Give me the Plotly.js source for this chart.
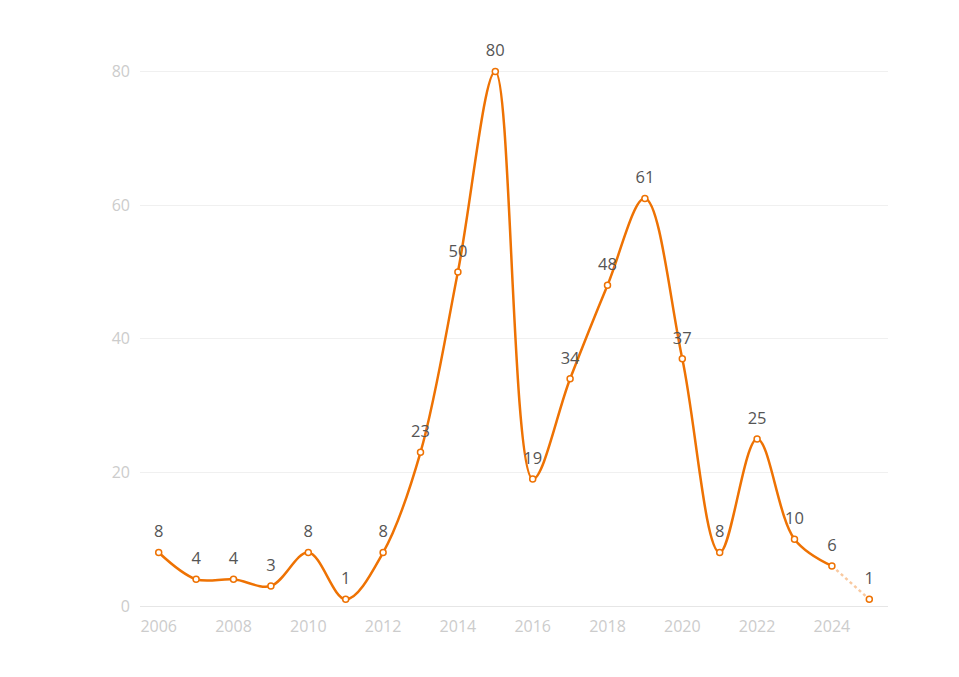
<!DOCTYPE html>
<html><head><meta charset="utf-8">
<script src="https://cdn.plot.ly/plotly-3.0.1.min.js"></script>
<style>body{margin:0;background:#fff}#c{width:959px;height:677px}</style>
</head><body><div id="c"></div>
<script>
const years = [2006,2007,2008,2009,2010,2011,2012,2013,2014,2015,2016,2017,2018,2019,2020,2021,2022,2023,2024];
const values = [8,4,4,3,8,1,8,23,50,80,19,34,48,61,37,8,25,10,6];
const projYears = [2024,2025];
const projValues = [6,1];
const tickYears = [2006,2008,2010,2012,2014,2016,2018,2020,2022,2024];
const yTicks = [0,20,40,60,80];
const orange = '#EE7203';
const labelYears = years.concat([2025]);
const labelValues = values.concat([1]);
const traces = [
  {x: projYears, y: projValues, mode:'lines', line:{color:'#F9C9A0', width:2.5, dash:'dot'}, hoverinfo:'skip', cliponaxis:false},
  {x: years, y: values, mode:'lines+markers',
   line:{color:orange, width:2.5, shape:'spline', smoothing:1},
   marker:{size:6, color:'#fff', line:{color:orange, width:1.5}}, cliponaxis:false},
  {x:[2025], y:[1], mode:'markers',
   marker:{size:6, color:'#fff', line:{color:orange, width:1.5}}, cliponaxis:false},
  {x: labelYears, y: labelValues, mode:'markers+text', text: labelValues.map(String), textposition:'top center',
   textfont:{family:'Open Sans, sans-serif', size:16.5, color:'#555'},
   marker:{size:16, opacity:0}, hoverinfo:'skip', cliponaxis:false}
];
const layout = {
  width:959, height:677, showlegend:false,
  margin:{l:140, r:71, t:38, b:71},
  paper_bgcolor:'#fff', plot_bgcolor:'#fff',
  font:{family:'Open Sans, sans-serif'},
  xaxis:{range:[2005.5,2025.5], tickvals:tickYears, ticktext:tickYears.map(String), showgrid:false, zeroline:false,
    showline:true, linecolor:'#e6e6e6', linewidth:1, ticks:'', tickfont:{size:16, color:'#ccc'}, ticklabelstandoff:6},
  yaxis:{range:[0,85], tickvals:yTicks, showgrid:true, gridcolor:'#f0f0f0', zeroline:false, showline:false,
    ticks:'', ticklen:0, tickfont:{size:16, color:'#ccc'}, ticklabelstandoff:9}
};
Plotly.newPlot('c', traces, layout, {displayModeBar:false});
</script></body></html>
